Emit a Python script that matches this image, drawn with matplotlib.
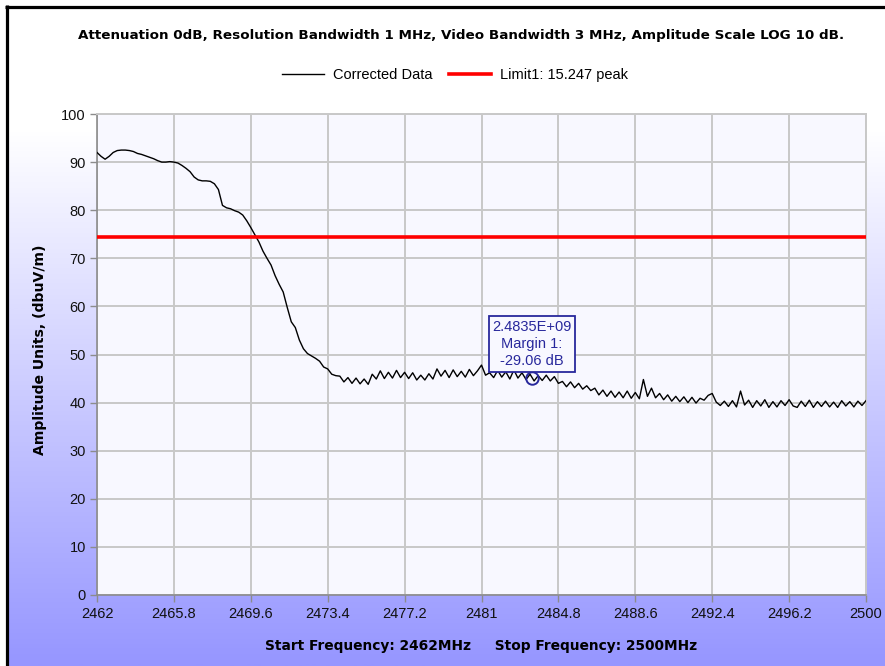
import numpy as np
import matplotlib
matplotlib.use("Agg")
import matplotlib.pyplot as plt
from matplotlib.lines import Line2D
from matplotlib.colors import LinearSegmentedColormap

# ---------------- data ----------------
freq_start = 2462.0
freq_stop = 2500.0
freq_step = 0.2

amplitude = [
    92.0, 91.2, 90.6, 91.2, 92.0,   # 2462
    92.4, 92.5, 92.5, 92.4, 92.2,   # 2463
    91.8, 91.6, 91.3, 91.0, 90.7,   # 2464
    90.3, 90.0, 90.0, 90.1, 90.0,   # 2465
    89.8, 89.3, 88.7, 88.0, 86.9,   # 2466
    86.3, 86.1, 86.1, 86.0, 85.5,   # 2467
    84.3, 81.0, 80.5, 80.3, 79.9,   # 2468
    79.6, 79.0, 77.8, 76.4, 74.9,   # 2469
    73.4, 71.5, 70.0, 68.6, 66.4,   # 2470
    64.6, 63.0, 59.8, 56.8, 55.6,   # 2471
    53.0, 51.2, 50.2, 49.7, 49.2,   # 2472
    48.6, 47.4, 47.0, 45.9, 45.6,   # 2473
    45.5, 44.3, 45.2, 44.0, 45.1,   # 2474
    43.9, 44.9, 43.8, 45.9, 44.9,   # 2475
    46.6, 45.0, 46.3, 45.1, 46.7,   # 2476
    45.2, 46.3, 45.0, 46.2, 44.7,   # 2477
    45.7, 44.7, 46.0, 44.9, 47.0,   # 2478
    45.5, 46.7, 45.2, 46.8, 45.4,   # 2479
    46.5, 45.3, 46.9, 45.6, 46.6,   # 2480
    47.8, 45.7, 46.2, 45.2, 46.7,   # 2481
    45.3, 46.4, 44.9, 46.8, 45.1,   # 2482
    46.2, 44.8, 45.9, 44.5, 45.6,   # 2483
    44.6, 45.7, 44.5, 45.4, 44.0,   # 2484
    44.4, 43.3, 44.3, 43.1, 44.0,   # 2485
    42.8, 43.5, 42.5, 43.0, 41.6,   # 2486
    42.6, 41.3, 42.4, 41.1, 42.2,   # 2487
    41.0, 42.4, 40.9, 42.1, 40.8,   # 2488
    44.8, 41.3, 43.0, 41.0, 41.9,   # 2489
    40.6, 41.6, 40.3, 41.3, 40.2,   # 2490
    41.2, 40.0, 41.1, 39.9, 40.9,   # 2491
    40.5, 41.5, 41.9, 40.1, 39.4,   # 2492
    40.3, 39.2, 40.4, 39.1, 42.4,   # 2493
    39.5, 40.5, 39.0, 40.4, 39.3,   # 2494
    40.6, 39.0, 40.2, 39.1, 40.4,   # 2495
    39.4, 40.6, 39.3, 39.0, 40.3,   # 2496
    39.2, 40.5, 39.0, 40.2, 39.2,   # 2497
    40.3, 39.1, 40.1, 39.0, 40.4,   # 2498
    39.3, 40.2, 39.1, 40.3, 39.4,   # 2499
    40.4,                           # 2500
]

limit_level = 74.4
marker_freq = 2483.5
marker_level = 45.2
marker_lines = ["2.4835E+09", "Margin 1:", "-29.06 dB"]

x_ticks = [2462, 2465.8, 2469.6, 2473.4, 2477.2, 2481, 2484.8, 2488.6, 2492.4, 2496.2, 2500]
x_tick_labels = ["2462", "2465.8", "2469.6", "2473.4", "2477.2", "2481", "2484.8",
                 "2488.6", "2492.4", "2496.2", "2500"]
y_ticks = [0, 10, 20, 30, 40, 50, 60, 70, 80, 90, 100]

title_text = ("Attenuation 0dB, Resolution Bandwidth 1 MHz, Video Bandwidth 3 MHz, "
              "Amplitude Scale LOG 10 dB.")
xlabel_text = "Start Frequency: 2462MHz     Stop Frequency: 2500MHz"
ylabel_text = "Amplitude Units, (dbuV/m)"
legend_labels = ["Corrected Data", "Limit1: 15.247 peak"]

freqs = np.linspace(freq_start, freq_stop, len(amplitude))

# ---------------- figure ----------------
W, H = 885, 666
fig = plt.figure(figsize=(W / 100, H / 100), dpi=100, facecolor="white")

# gradient background (inside the black frame)
bg = fig.add_axes([8 / W, 0, 1 - 8 / W, 1 - 8 / H], zorder=-10)
bg.set_axis_off()
rows = np.linspace(8, H, 400)
frac = np.clip((rows - 130) / (H - 130), 0, 1)
cmap = LinearSegmentedColormap.from_list("bgg", ["#ffffff", "#9696ff"])
bg.imshow(frac[:, None], aspect="auto", cmap=cmap, vmin=0, vmax=1,
          extent=[0, 1, 0, 1], interpolation="bilinear")

# black frame (top and left)
fig.add_artist(Line2D([6.5 / W, 6.5 / W], [0, 1 - 5 / H], transform=fig.transFigure,
                      color="black", lw=2.3, solid_capstyle="butt"))
fig.add_artist(Line2D([5 / W, 1], [1 - 6.5 / H, 1 - 6.5 / H], transform=fig.transFigure,
                      color="black", lw=2.3, solid_capstyle="butt"))

# plot area
L, R, T, B = 97, 866, 114, 595
ax = fig.add_axes([L / W, 1 - B / H, (R - L) / W, (B - T) / H])
ax.set_facecolor("#f8f8ff")
ax.set_xlim(freq_start, freq_stop)
ax.set_ylim(0, 100)

grid_c = "#c8c8c8"
ax.set_xticks(x_ticks)
ax.set_xticklabels(x_tick_labels)
ax.set_yticks(y_ticks)
ax.grid(True, color=grid_c, lw=1.4)
ax.set_axisbelow(True)

for s in ["top", "right"]:
    ax.spines[s].set_color(grid_c)
    ax.spines[s].set_linewidth(1.4)
for s in ["left", "bottom"]:
    ax.spines[s].set_color("#8c8c8c")
    ax.spines[s].set_linewidth(1.2)

tick_font = dict(family=["Liberation Sans", "DejaVu Sans"], size=10.5)
ax.tick_params(axis="both", direction="out", length=5, width=1.0, color="#8c8c8c",
               labelcolor="#111111")
ax.tick_params(axis="x", pad=4)
ax.tick_params(axis="y", pad=3)
for lab in ax.get_xticklabels() + ax.get_yticklabels():
    lab.set_fontfamily(tick_font["family"])
    lab.set_fontsize(tick_font["size"])

# data
ln_data, = ax.plot(freqs, amplitude, color="black", lw=1.0, zorder=3)
ln_lim = ax.axhline(limit_level, color="#ff0000", lw=2.6, zorder=4)

# marker + annotation
mk_c = "#28289c"
ax.plot([marker_freq], [marker_level], marker="o", ms=9, mfc="none", mec=mk_c,
        mew=1.4, zorder=5)
ax.annotate("\n".join(marker_lines), xy=(marker_freq, marker_level),
            xytext=(0, 7), textcoords="offset points", ha="center", va="bottom",
            fontsize=10.5, family=["Liberation Sans", "DejaVu Sans"], color=mk_c,
            linespacing=1.28, zorder=6,
            bbox=dict(boxstyle="square,pad=0.25", fc="#f8f8ff", ec=mk_c, lw=1.3))

# titles
fig.text(0.5 * (80 + 842) / W, 1 - 36 / H, title_text, ha="center", va="center",
         fontsize=9.7, fontweight="bold", family="DejaVu Sans", color="black")
fig.text(481 / W, 1 - 646 / H, xlabel_text, ha="center", va="center",
         fontsize=9.9, fontweight="bold", family="DejaVu Sans", color="black")
fig.text(40 / W, 1 - 350 / H, ylabel_text, ha="center", va="center", rotation=90,
         fontsize=10.1, fontweight="bold", family="DejaVu Sans", color="black")

# legend
handles = [Line2D([], [], color="black", lw=1.0),
           Line2D([], [], color="#ff0000", lw=2.6)]
fig.legend(handles, legend_labels, loc="center", bbox_to_anchor=(455 / W, 1 - 75 / H),
           ncol=2, frameon=False, handlelength=2.9, handletextpad=0.6,
           columnspacing=1.1, prop=dict(family=["Liberation Sans", "DejaVu Sans"], size=10.5))

fig.savefig("out.png", dpi=100, facecolor=fig.get_facecolor())
